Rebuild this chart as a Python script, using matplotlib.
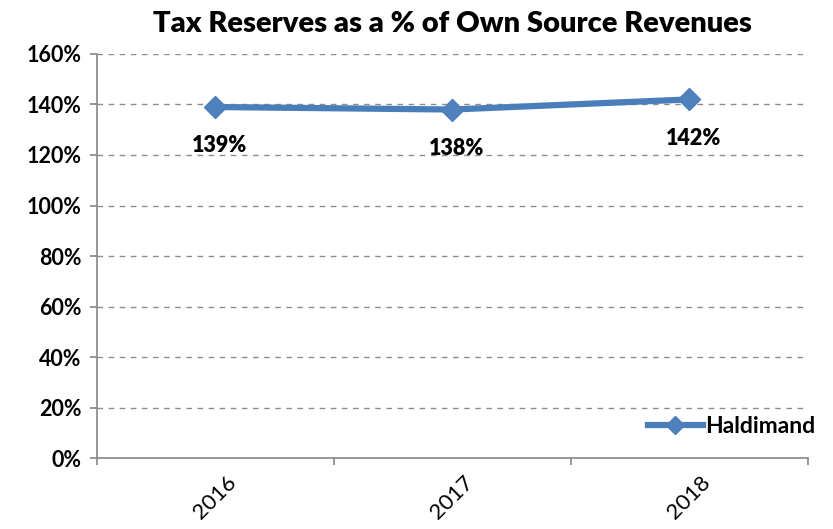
import matplotlib.pyplot as plt
from matplotlib.ticker import FixedLocator, PercentFormatter

# data
years = ['2016', '2017', '2018']
haldimand = [139, 138, 142]
y_ticks = [0, 20, 40, 60, 80, 100, 120, 140, 160]

plt.rcParams['font.family'] = ['Lato', 'DejaVu Sans']

fig = plt.figure(figsize=(8.33, 5.29), dpi=100)
ax = fig.add_axes([0.1165, 0.134, 0.853, 0.764])

x = list(range(len(years)))
ax.plot(x, haldimand, color='#4A7EBB', lw=4.5, marker='D', ms=11,
        markerfacecolor='#4F81BD', markeredgecolor='#4A7EBB', label='Haldimand',
        zorder=3)

for xi, v in zip(x, haldimand):
    ax.annotate('%d%%' % v, (xi, v), xytext=(3, -28), textcoords='offset points',
                ha='center', va='center', fontsize=15.5, fontweight='heavy')

ax.set_xlim(-0.5, len(years) - 0.5)
ax.set_ylim(0, 160)
ax.set_yticks(y_ticks)
ax.yaxis.set_major_formatter(PercentFormatter(decimals=0))
ax.set_xticks(x)
ax.set_xticklabels(years, rotation=45, fontsize=16)
ax.tick_params(axis='x', which='major', length=0, pad=10)
ax.xaxis.set_minor_locator(FixedLocator([-0.5, 0.5, 1.5, 2.5]))
ax.tick_params(axis='x', which='minor', length=5, color='#868686', width=1.2)
ax.tick_params(axis='y', labelsize=15.5, length=5, color='#868686', width=1.2,
               pad=6)
for lbl in ax.get_yticklabels():
    lbl.set_fontweight('bold')

ax.grid(axis='y', linestyle=(0, (4, 4)), color='#8C8C8C', lw=1)
ax.set_axisbelow(True)
for s in ['top', 'right']:
    ax.spines[s].set_visible(False)
for s in ['left', 'bottom']:
    ax.spines[s].set_color('#868686')
    ax.spines[s].set_linewidth(1.2)

ax.set_title('Tax Reserves as a % of Own Source Revenues', fontsize=21,
             fontweight='heavy', pad=16)

leg = ax.legend(loc='lower right', bbox_to_anchor=(1.04, 0.0), frameon=False,
                prop={'size': 16.5, 'weight': 'bold'}, handlelength=2.4,
                handletextpad=0.1, markerscale=0.8)

fig.savefig('out.png', dpi=100)
